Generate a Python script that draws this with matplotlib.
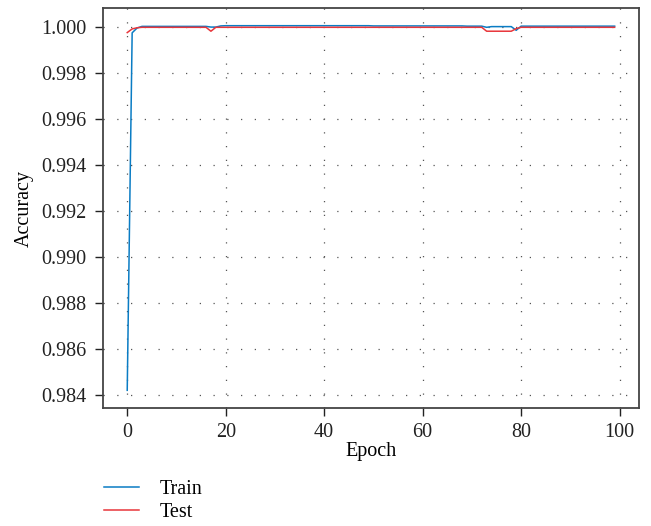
import matplotlib
matplotlib.use("Agg")
import matplotlib.pyplot as plt
from matplotlib.lines import Line2D

epochs = list(range(100))

train_acc = [
    0.98420, 0.99975, 0.99996, 1.00003, 1.00003, 1.00003, 1.00003, 1.00003, 1.00003, 1.00003,
    1.00003, 1.00003, 1.00003, 1.00003, 1.00003, 1.00003, 1.00003, 1.00000, 1.00000, 1.00005,
    1.00006, 1.00006, 1.00006, 1.00006, 1.00006, 1.00006, 1.00006, 1.00006, 1.00006, 1.00006,
    1.00006, 1.00006, 1.00006, 1.00006, 1.00006, 1.00006, 1.00006, 1.00006, 1.00006, 1.00006,
    1.00006, 1.00006, 1.00006, 1.00006, 1.00006, 1.00006, 1.00006, 1.00006, 1.00006, 1.00006,
    1.00005, 1.00005, 1.00005, 1.00005, 1.00005, 1.00005, 1.00005, 1.00005, 1.00005, 1.00005,
    1.00005, 1.00005, 1.00005, 1.00005, 1.00005, 1.00005, 1.00005, 1.00005, 1.00005, 1.00004,
    1.00004, 1.00004, 1.00004, 0.99999, 1.00002, 1.00002, 1.00002, 1.00002, 1.00002, 0.99986,
    1.00004, 1.00004, 1.00004, 1.00004, 1.00004, 1.00004, 1.00004, 1.00004, 1.00004, 1.00004,
    1.00004, 1.00004, 1.00004, 1.00004, 1.00004, 1.00004, 1.00004, 1.00004, 1.00004, 1.00004,
]

test_acc = [
    0.99976, 0.99992, 0.99997, 0.99999, 0.99999, 0.99999, 0.99999, 0.99999, 0.99999, 0.99999,
    0.99999, 0.99999, 0.99999, 0.99999, 0.99999, 0.99999, 0.99999, 0.99982, 0.99999, 0.99999,
    0.99999, 0.99999, 0.99999, 0.99999, 0.99999, 0.99999, 0.99999, 0.99999, 0.99999, 0.99999,
    0.99999, 0.99999, 0.99999, 0.99999, 0.99999, 0.99999, 0.99999, 0.99999, 0.99999, 0.99999,
    0.99999, 0.99999, 0.99999, 0.99999, 0.99999, 0.99999, 0.99999, 0.99999, 0.99999, 0.99999,
    0.99999, 0.99999, 0.99999, 0.99999, 0.99999, 0.99999, 0.99999, 0.99999, 0.99999, 0.99999,
    0.99999, 0.99999, 0.99999, 0.99999, 0.99999, 0.99999, 0.99999, 0.99999, 0.99999, 0.99999,
    0.99999, 0.99999, 0.99999, 0.99982, 0.99982, 0.99982, 0.99982, 0.99982, 0.99982, 0.99993,
    0.99999, 0.99999, 0.99999, 0.99999, 0.99999, 0.99999, 0.99999, 0.99999, 0.99999, 0.99999,
    0.99999, 0.99999, 0.99999, 0.99999, 0.99999, 0.99999, 0.99999, 0.99999, 0.99999, 0.99999,
]

x_ticks = [0, 20, 40, 60, 80, 100]
y_ticks = [0.984, 0.986, 0.988, 0.990, 0.992, 0.994, 0.996, 0.998, 1.000]
series_names = ["Train", "Test"]
colors = ["#0A7CC4", "#E8363B"]

plt.rcParams['font.family'] = ['Liberation Serif', 'DejaVu Serif']
FS = 14.5

fig = plt.figure(figsize=(6.51, 5.26), dpi=100)
ax = fig.add_axes([0.158, 0.2243, 0.8236, 0.7605])

ax.plot(epochs, train_acc, color=colors[0], lw=1.1, zorder=3)
ax.plot(epochs, test_acc, color=colors[1], lw=1.1, zorder=3)

ax.set_xlim(-4.95, 103.95)
ax.set_ylim(0.98343, 1.00083)
ax.set_xticks(x_ticks)
ax.set_yticks(y_ticks)
ax.set_yticklabels([f"{v:.3f}" for v in y_ticks])
ax.tick_params(direction='out', length=6, width=1, labelsize=FS, colors='#222222')
ax.tick_params(axis='y', pad=6)
ax.tick_params(axis='x', pad=5)
ax.grid(True, color='#555555', linestyle=(0, (1, 10)), linewidth=0.9)

for s in ax.spines.values():
    s.set_color('#444444')
    s.set_linewidth(1.3)

ax.set_xlabel("Epoch", fontsize=FS, labelpad=0)
ax.set_ylabel("Accuracy", fontsize=FS, labelpad=5)

handles = [Line2D([], [], color=c, lw=1.1) for c in colors]
fig.legend(handles, series_names, loc='upper left', bbox_to_anchor=(0.16, 0.087),
           frameon=False, fontsize=FS, handlelength=1.75, handletextpad=1.0,
           labelspacing=0.2, borderaxespad=0, borderpad=0)

fig.savefig("out.png", dpi=100)
